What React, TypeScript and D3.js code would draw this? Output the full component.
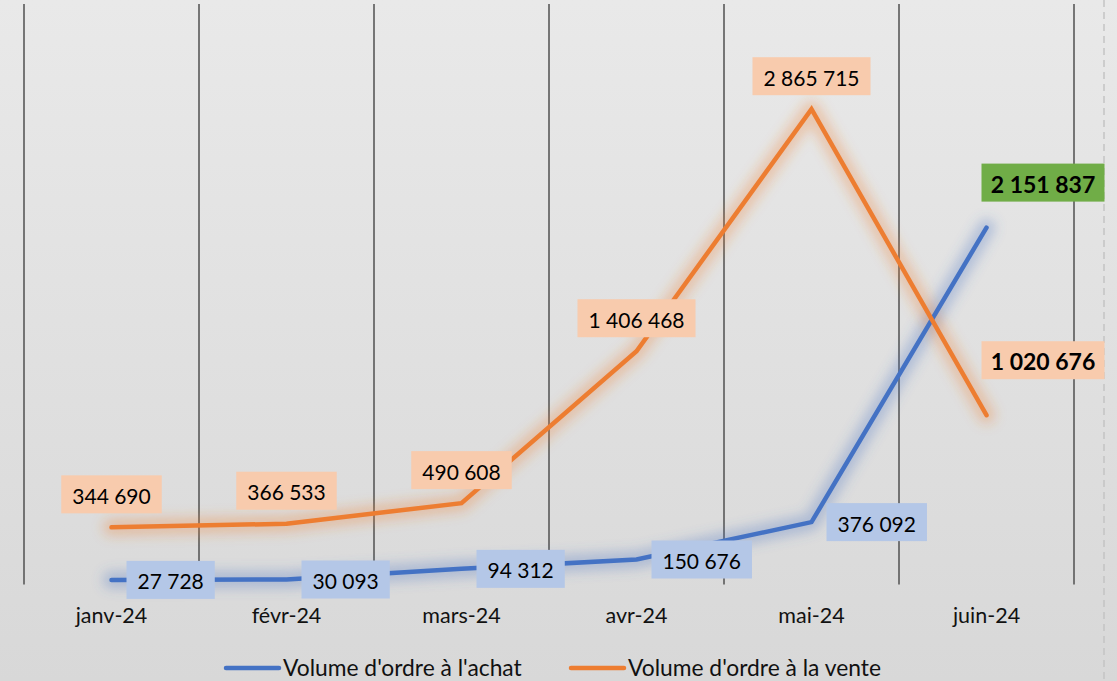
import React, { useRef, useEffect } from 'react';
import * as d3 from 'd3';

const months = ['janv-24', 'févr-24', 'mars-24', 'avr-24', 'mai-24', 'juin-24'];
const achat = [27728, 30093, 94312, 150676, 376092, 2151837];
const vente = [344690, 366533, 490608, 1406468, 2865715, 1020676];
const seriesNames = ["Volume d'ordre à l'achat", "Volume d'ordre à la vente"];

const WIDTH = 1117;
const HEIGHT = 681;
const FONT = 'Lato, "Open Sans", sans-serif';

const fmt = (v: number) => d3.format(',')(v).replace(/,/g, ' ');

const App: React.FC = () => {
  const svgRef = useRef<SVGSVGElement>(null);

  useEffect(() => {
    if (!svgRef.current) return;
    const svg = d3.select(svgRef.current);
    svg.selectAll('*').remove();

    const defs = svg.append('defs');
    const grad = defs.append('linearGradient')
      .attr('id', 'bg')
      .attr('x1', 0).attr('y1', 0).attr('x2', 0).attr('y2', 1);
    grad.append('stop').attr('offset', '0%').attr('stop-color', '#e9e9e9');
    grad.append('stop').attr('offset', '100%').attr('stop-color', '#d8d8d8');

    const glow = defs.append('filter')
      .attr('id', 'glow')
      .attr('x', '-20%').attr('y', '-20%')
      .attr('width', '140%').attr('height', '140%');
    glow.append('feGaussianBlur').attr('stdDeviation', 6);

    svg.append('rect')
      .attr('width', WIDTH)
      .attr('height', HEIGHT)
      .attr('fill', 'url(#bg)');

    const x = d3.scaleBand<string>().domain(months).range([24, 1074]);
    const y = d3.scaleLinear().domain([0, 3500000]).range([584.5, 4]);
    const cx = (m: string) => (x(m) as number) + x.bandwidth() / 2;

    // vertical gridlines on category boundaries
    const bounds = months.map(m => x(m) as number).concat([x.range()[1]]);
    svg.append('g')
      .selectAll('line')
      .data(bounds)
      .join('line')
      .attr('x1', d => d).attr('x2', d => d)
      .attr('y1', y(3500000)).attr('y2', y(0))
      .attr('stroke', '#595959')
      .attr('stroke-width', 1.6);

    // chart edge (dashed)
    svg.append('line')
      .attr('x1', 1104).attr('x2', 1104)
      .attr('y1', 0).attr('y2', HEIGHT)
      .attr('stroke', '#c4c4c4')
      .attr('stroke-width', 1.5)
      .attr('stroke-dasharray', '7 5');

    // category labels
    svg.append('g')
      .selectAll('text')
      .data(months)
      .join('text')
      .attr('x', d => cx(d))
      .attr('y', 623)
      .attr('text-anchor', 'middle')
      .attr('font-family', FONT)
      .attr('font-size', 21.5)
      .attr('fill', '#111')
      .text(d => d);

    const line = d3.line<number>()
      .x((_, i) => cx(months[i]))
      .y(d => y(d));

    const series = [
      { values: achat, color: '#4472c4' },
      { values: vente, color: '#ed7d31' },
    ];

    series.forEach(s => {
      svg.append('path')
        .attr('d', line(s.values) as string)
        .attr('fill', 'none')
        .attr('stroke', s.color)
        .attr('stroke-opacity', 0.3)
        .attr('stroke-width', 18)
        .attr('stroke-linecap', 'round')
        .attr('stroke-linejoin', 'round')
        .attr('filter', 'url(#glow)');
    });
    series.forEach(s => {
      svg.append('path')
        .attr('d', line(s.values) as string)
        .attr('fill', 'none')
        .attr('stroke', s.color)
        .attr('stroke-width', 4.5)
        .attr('stroke-linecap', 'round')
        .attr('stroke-linejoin', 'miter');
    });

    // data labels
    const drawLabel = (
      text: string, px: number, py: number, fill: string,
      anchor: 'above' | 'right' | 'fixed', bold = false, boxW = 0
    ) => {
      const g = svg.append('g');
      const t = g.append('text')
        .attr('font-family', FONT)
        .attr('font-size', bold ? 23 : 21)
        .attr('font-weight', bold ? 'bold' : 'normal')
        .attr('fill', '#000')
        .attr('text-anchor', 'middle')
        .attr('dominant-baseline', 'central')
        .text(text);
      const tw = (t.node() as SVGTextElement).getComputedTextLength();
      const w = boxW || tw + 22;
      const h = 38;
      let left = 0;
      let top = 0;
      if (anchor === 'above') {
        left = px - w / 2;
        top = py - 14 - h;
      } else if (anchor === 'right') {
        left = px + 15;
        top = py - h / 2;
      } else {
        left = px;
        top = py;
      }
      g.insert('rect', 'text')
        .attr('x', left).attr('y', top)
        .attr('width', w).attr('height', h)
        .attr('fill', fill);
      t.attr('x', left + w / 2).attr('y', top + h / 2 + 1);
    };

    const last = months.length - 1;
    achat.forEach((v, i) => {
      if (i === last) {
        drawLabel(fmt(v), cx(months[i]) - 5, y(v) - 64, '#70ad47', 'fixed', true, 123);
      } else {
        drawLabel(fmt(v), cx(months[i]), y(v), '#b4c7e7', 'right');
      }
    });
    vente.forEach((v, i) => {
      if (i === last) {
        drawLabel(fmt(v), cx(months[i]) - 5, y(v) - 74, '#f8cbad', 'fixed', true, 123);
      } else {
        drawLabel(fmt(v), cx(months[i]), y(v), '#f8cbad', 'above');
      }
    });

    // legend
    const legendItems = [
      { name: seriesNames[0], color: '#4472c4', x0: 226 },
      { name: seriesNames[1], color: '#ed7d31', x0: 571 },
    ];
    const lg = svg.append('g');
    legendItems.forEach(it => {
      lg.append('line')
        .attr('x1', it.x0).attr('x2', it.x0 + 53)
        .attr('y1', 668).attr('y2', 668)
        .attr('stroke', it.color)
        .attr('stroke-width', 4.5)
        .attr('stroke-linecap', 'round');
      lg.append('text')
        .attr('x', it.x0 + 57)
        .attr('y', 676)
        .attr('font-family', FONT)
        .attr('font-size', 22.8)
        .attr('fill', '#111')
        .text(it.name);
    });
  }, []);

  return (
    <svg
      ref={svgRef}
      width={WIDTH}
      height={HEIGHT}
      style={{ position: 'fixed', left: 0, top: 0, display: 'block' }}
    />
  );
};

export default App;
